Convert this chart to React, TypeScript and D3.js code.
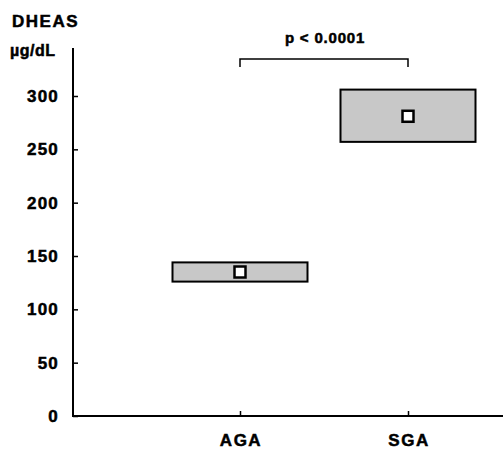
import React from "react";
import * as d3 from "d3";

const groups = ["AGA", "SGA"];
const lowerValues = [126, 257];
const upperValues = [144, 306];
const meanValues = [135, 281];
const yTicks = [0, 50, 100, 150, 200, 250, 300];
const pLabel = "p < 0.0001";

const App = () => {
  const svgRef = React.useRef<SVGSVGElement>(null);
  const width = 503;
  const height = 451;
  const margin = { left: 73, top: 48 };

  React.useEffect(() => {
    const svg = d3.select(svgRef.current);
    svg.selectAll("*").remove();

    const font = "'Liberation Sans', Arial, sans-serif";

    // 0 at 416px, 300 at 96px
    const y = d3.scaleLinear().domain([0, 300]).range([416, 96]);
    const x = d3.scalePoint().domain(groups).range([240, 408]);

    const g = svg.append("g").attr("font-family", font).attr("font-weight", "bold");
    // text a little heavier, like the scanned print
    const txt = g.append("g").attr("stroke", "#000").attr("stroke-width", 0.5);

    // y ticks point inward
    const yAxis = d3.axisLeft(y).tickValues(yTicks).tickSize(-5).tickFormat(() => "");
    const yG = g.append("g").attr("transform", `translate(${margin.left},0)`).call(yAxis);
    yG.select(".domain").remove();
    yG.selectAll("line").attr("stroke", "#000").attr("stroke-width", 1.5);

    txt.selectAll(".ylab")
      .data(yTicks)
      .enter()
      .append("text")
      .attr("x", 59)
      .attr("y", (d) => y(d))
      .attr("dy", "0.36em")
      .attr("text-anchor", "end")
      .attr("font-size", 17)
      .attr("letter-spacing", 1.2)
      .text((d) => d);

    g.append("line")
      .attr("x1", margin.left).attr("x2", margin.left)
      .attr("y1", margin.top).attr("y2", y(0) + 1)
      .attr("stroke", "#000").attr("stroke-width", 2);

    g.append("line")
      .attr("x1", margin.left - 1).attr("x2", width)
      .attr("y1", y(0)).attr("y2", y(0))
      .attr("stroke", "#000").attr("stroke-width", 2);

    const xAxis = d3.axisTop(x).tickSize(5).tickFormat(() => "");
    const xG = g.append("g").attr("transform", `translate(0,${y(0)})`).call(xAxis);
    xG.select(".domain").remove();
    xG.selectAll("line").attr("stroke", "#000").attr("stroke-width", 1.5);

    txt.selectAll(".xlab")
      .data(groups)
      .enter()
      .append("text")
      .attr("x", (d) => (x(d) as number) + 1)
      .attr("y", 446)
      .attr("text-anchor", "middle")
      .attr("font-size", 17)
      .attr("letter-spacing", 1.5)
      .text((d) => d);

    // range boxes
    const boxW = 135;
    g.selectAll(".box")
      .data(groups)
      .enter()
      .append("rect")
      .attr("x", (d) => (x(d) as number) - boxW / 2)
      .attr("y", (d, i) => y(upperValues[i]))
      .attr("width", boxW)
      .attr("height", (d, i) => y(lowerValues[i]) - y(upperValues[i]))
      .attr("fill", "#c8c8c8")
      .attr("stroke", "#000")
      .attr("stroke-width", 2);

    // mean markers
    const m = 11;
    g.selectAll(".mean")
      .data(groups)
      .enter()
      .append("rect")
      .attr("x", (d) => (x(d) as number) - m / 2)
      .attr("y", (d, i) => y(meanValues[i]) - m / 2)
      .attr("width", m)
      .attr("height", m)
      .attr("fill", "#fff")
      .attr("stroke", "#000")
      .attr("stroke-width", 2.5);

    // significance bracket
    const bY = 59;
    g.append("path")
      .attr("d", `M${x("AGA")},${bY + 8}V${bY}H${x("SGA")}V${bY + 8}`)
      .attr("fill", "none")
      .attr("stroke", "#000")
      .attr("stroke-width", 1.5);
    txt.append("text")
      .attr("x", ((x("AGA") as number) + (x("SGA") as number)) / 2 + 1)
      .attr("y", 43)
      .attr("text-anchor", "middle")
      .attr("font-size", 15)
      .attr("letter-spacing", 0.8)
      .text(pLabel);

    // axis title
    txt.append("text").attr("x", 12).attr("y", 27).attr("font-size", 17).attr("letter-spacing", 1.5).text("DHEAS");
    txt.append("text").attr("x", 10).attr("y", 56).attr("font-size", 16).attr("letter-spacing", 0.5).text("µg/dL");
  }, []);

  return (
    <svg ref={svgRef} width={width} height={height} style={{ display: "block", position: "absolute", left: 0, top: 0 }} />
  );
};

export default App;
